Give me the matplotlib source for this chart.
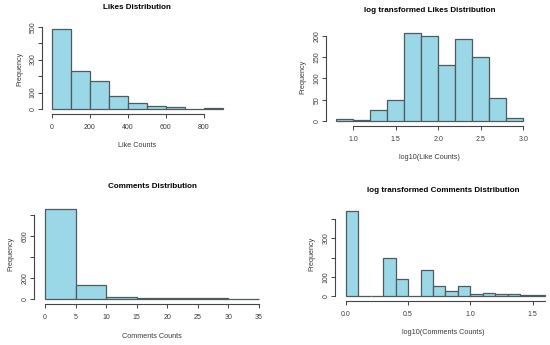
import matplotlib
matplotlib.use("Agg")
import matplotlib.pyplot as plt
import numpy as np

plt.rcParams['font.family'] = ['Liberation Sans', 'DejaVu Sans']

# ---- data ----
likes_edges = [0, 100, 200, 300, 400, 500, 600, 700, 800, 900]
likes_counts = [489, 228, 170, 81, 34, 16, 10, 1, 3]
likes_xticks = [0, 200, 400, 600, 800]
likes_yticks = [0, 100, 200, 300, 400, 500]
likes_ylabels = ['0', '100', '', '300', '', '500']

loglikes_edges = [0.8, 1.0, 1.2, 1.4, 1.6, 1.8, 2.0, 2.2, 2.4, 2.6, 2.8, 3.0]
loglikes_counts = [4, 3, 26, 49, 207, 198, 130, 191, 149, 54, 6]
loglikes_xticks = [1.0, 1.5, 2.0, 2.5, 3.0]
loglikes_yticks = [0, 50, 100, 150, 200]
loglikes_ylabels = ['0', '50', '100', '150', '200']

comments_edges = [0, 5, 10, 15, 20, 25, 30, 35]
comments_counts = [861, 131, 22, 13, 6, 5, 1]
comments_xticks = [0, 5, 10, 15, 20, 25, 30, 35]
comments_yticks = [0, 200, 400, 600, 800]
comments_ylabels = ['0', '200', '', '600', '']

logcomments_edges = [0.0, 0.1, 0.2, 0.3, 0.4, 0.5, 0.6, 0.7, 0.8, 0.9,
                     1.0, 1.1, 1.2, 1.3, 1.4, 1.5, 1.6]
logcomments_counts = [442, 0, 0, 197, 90, 0, 134, 50, 24, 50, 9, 14, 9, 9, 3, 3]
logcomments_xticks = [0.0, 0.5, 1.0, 1.5]
logcomments_yticks = [0, 100, 200, 300, 400]
logcomments_ylabels = ['0', '100', '', '300', '']

W, H = 550, 345
fig = plt.figure(figsize=(W / 100, H / 100), dpi=100)

FILL = '#9ad8e8'
EDGE = '#4f5a5e'
TXT = '#3a3a3a'
FS_TICK = 5.0
FS_LAB = 5.2
FS_TITLE = 5.8


def panel(box, edges, counts, xlim, ylim, xticks, xfmt, yticks, ylabels,
          title, xlabel, xbounds, ybounds, title_pad):
    l, t, r, b = box
    ax = fig.add_axes([l / W, 1 - b / H, (r - l) / W, (b - t) / H])
    ax.set_facecolor('none')
    edges = np.array(edges)
    ax.bar(edges[:-1], counts, width=np.diff(edges), align='edge',
           color=FILL, edgecolor=EDGE, linewidth=0.9)
    ax.set_xlim(*xlim)
    ax.set_ylim(*ylim)
    for s in ['top', 'right']:
        ax.spines[s].set_visible(False)
    for s in ['left', 'bottom']:
        ax.spines[s].set_color('#444444')
        ax.spines[s].set_linewidth(0.8)
    ax.spines['left'].set_position(('outward', 2))
    ax.spines['bottom'].set_position(('outward', 1))
    ax.spines['bottom'].set_bounds(*xbounds)
    ax.spines['left'].set_bounds(*ybounds)
    ax.set_xticks(xticks)
    ax.set_xticklabels([xfmt(v) for v in xticks])
    ax.set_yticks(yticks)
    ax.set_yticklabels(ylabels, rotation=90, va='center')
    ax.tick_params(axis='both', length=3, width=0.7, colors='#444444',
                   labelsize=FS_TICK, labelcolor=TXT)
    ax.tick_params(axis='x', pad=4.5)
    ax.tick_params(axis='y', pad=0.8)
    ax.set_title(title, fontsize=FS_TITLE, fontweight='bold', color='black',
                 pad=title_pad)
    ax.set_xlabel(xlabel, fontsize=FS_LAB, color=TXT, labelpad=8)
    ax.set_ylabel('Frequency', fontsize=FS_LAB, color=TXT, labelpad=5)
    return ax


# Panel 1: Likes
panel((44.9, 25.3, 229.8, 112.2), likes_edges, likes_counts,
      (-36, 936), (-19.6, 508.6), likes_xticks, lambda v: f'{v:d}',
      likes_yticks, likes_ylabels, 'Likes Distribution', 'Like Counts',
      (0, 800), (0, 500), 12)

# Panel 2: log Likes
panel((328.5, 29.1, 530.8, 124.5), loglikes_edges, loglikes_counts,
      (0.712, 3.088), (-8.28, 215.3), loglikes_xticks, lambda v: f'{v:.1f}',
      loglikes_yticks, loglikes_ylabels, 'log transformed Likes Distribution',
      'log10(Like Counts)', (1.0, 3.0), (0, 200), 12.5)

# Panel 3: Comments
panel((36.4, 205.0, 267.6, 302.6), comments_edges, comments_counts,
      (-1.4, 36.4), (-34.4, 895.4), comments_xticks, lambda v: f'{v:d}',
      comments_yticks, comments_ylabels, 'Comments Distribution',
      'Comments Counts', (0, 35), (0, 800), 12.5)

# Panel 4: log Comments
panel((337.7, 207.6, 549.0, 299.4), logcomments_edges, logcomments_counts,
      (-0.064, 1.630), (-17.7, 459.7), logcomments_xticks, lambda v: f'{v:.1f}',
      logcomments_yticks, logcomments_ylabels,
      'log transformed Comments Distribution', 'log10(Comments Counts)',
      (0.0, 1.6), (0, 400), 11)

fig.savefig('out.png', dpi=100, facecolor='white')
